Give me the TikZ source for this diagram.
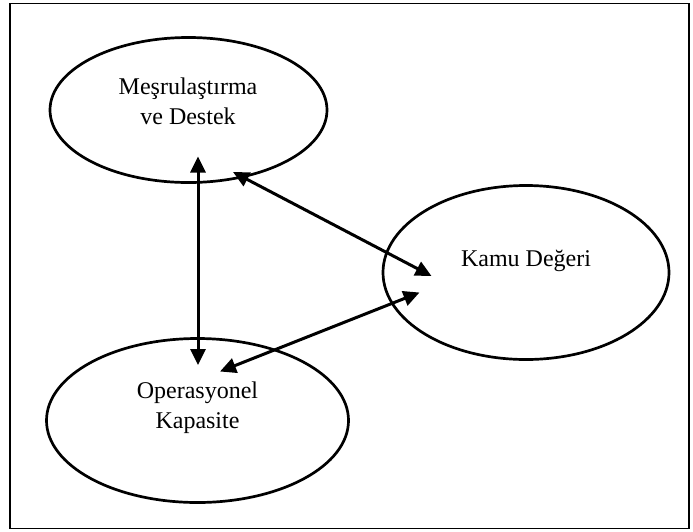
\documentclass[tikz,border=0pt]{standalone}
\usepackage{fontspec}
\setmainfont{Liberation Serif}
\usetikzlibrary{shapes.geometric,arrows.meta}
\begin{document}
\begin{tikzpicture}[x=1pt,y=-1pt,
  oval/.style={draw,ellipse,line width=2.7pt,inner sep=0pt},
  txt/.style={font=\fontsize{24}{30}\selectfont,align=center},
  tip/.style={Triangle[length=16pt,width=15pt]},
  conn/.style={line width=3pt,{Triangle[length=16pt,width=15pt]}-{Triangle[length=16pt,width=15pt]}}]
\useasboundingbox (0,0) rectangle (693,531);
\draw[line width=1.5pt] (10,3.5) rectangle (689,528.5);
\node[oval,minimum width=277pt,minimum height=145pt] (m) at (188.5,110) {};
\node[oval,minimum width=286pt,minimum height=174pt] (k) at (526,272.5) {};
\node[oval,minimum width=302pt,minimum height=164pt] (o) at (197.5,420.5) {};
\node[txt] (mt) at (188,101) {Meşrulaştırma\\ve Destek};
\node[txt] (kt) at (526,261) {Kamu Değeri};
\node[txt] (ot) at (197.5,408) {Operasyonel\\Kapasite};
\coordinate (a1) at (198,156.5);
\coordinate (a2) at (198,365);
\coordinate (b1) at (233,172);
\coordinate (b2) at (431.5,276);
\coordinate (c1) at (419.5,292.5);
\coordinate (c2) at (220,371.5);
\draw[conn] (a1) -- (a2);
\draw[conn] (b1) -- (b2);
\draw[conn] (c1) -- (c2);
\end{tikzpicture}
\end{document}
